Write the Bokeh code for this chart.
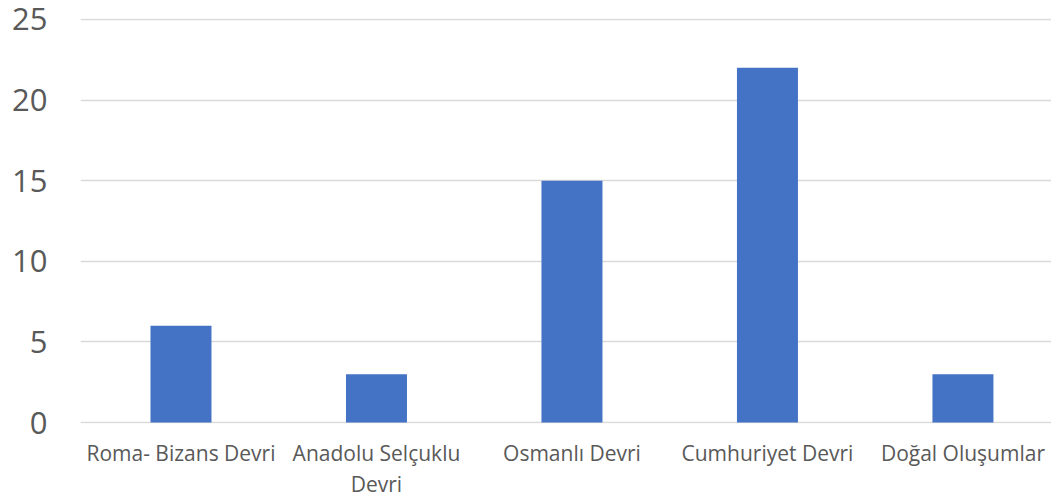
from bokeh.plotting import figure
from bokeh.models import Range1d, FixedTicker, ColumnDataSource
from bokeh.embed import file_html
from bokeh.resources import INLINE

categories = ["Roma- Bizans Devri", "Anadolu Selçuklu\nDevri", "Osmanlı Devri",
              "Cumhuriyet Devri", "Doğal Oluşumlar"]
values = [6, 3, 15, 22, 3]
y_ticks = [0, 5, 10, 15, 20, 25]

positions = list(range(len(categories)))
src = ColumnDataSource(dict(x=positions, top=values))

p = figure(frame_width=971, frame_height=405, output_backend="svg", toolbar_location=None,
           x_range=Range1d(-0.514, 4.453), y_range=Range1d(-0.06, 25.06),
           min_border_left=80, min_border_right=0, min_border_top=18, min_border_bottom=69)
p.outline_line_color = None
p.background_fill_color = "white"
p.border_fill_color = "white"

p.vbar(x="x", top="top", width=0.312, bottom=0, source=src,
       fill_color="#4472C4", line_color=None)

p.xgrid.visible = False
p.ygrid.ticker = FixedTicker(ticks=y_ticks)
p.ygrid.grid_line_color = "#D9D9D9"
p.ygrid.grid_line_width = 1.3

p.yaxis.ticker = FixedTicker(ticks=y_ticks)
p.yaxis.axis_line_color = None
p.yaxis.major_tick_line_color = None
p.yaxis.minor_tick_line_color = None
p.yaxis.major_label_text_font = "Open Sans"
p.yaxis.major_label_text_font_size = "31px"
p.yaxis.major_label_text_color = "#595959"
p.yaxis.major_label_standoff = 27

p.xaxis.ticker = FixedTicker(ticks=positions)
p.xaxis.major_label_overrides = {i: c for i, c in zip(positions, categories)}
p.xaxis.axis_line_color = None
p.xaxis.major_tick_line_color = None
p.xaxis.minor_tick_line_color = None
p.xaxis.major_label_text_font = "Open Sans"
p.xaxis.major_label_text_font_size = "21px"
p.xaxis.major_label_text_color = "#595959"
p.xaxis.major_label_standoff = 9
p.xaxis.major_label_text_line_height = 1.14

open("out.html", "w").write(file_html(p, INLINE))
